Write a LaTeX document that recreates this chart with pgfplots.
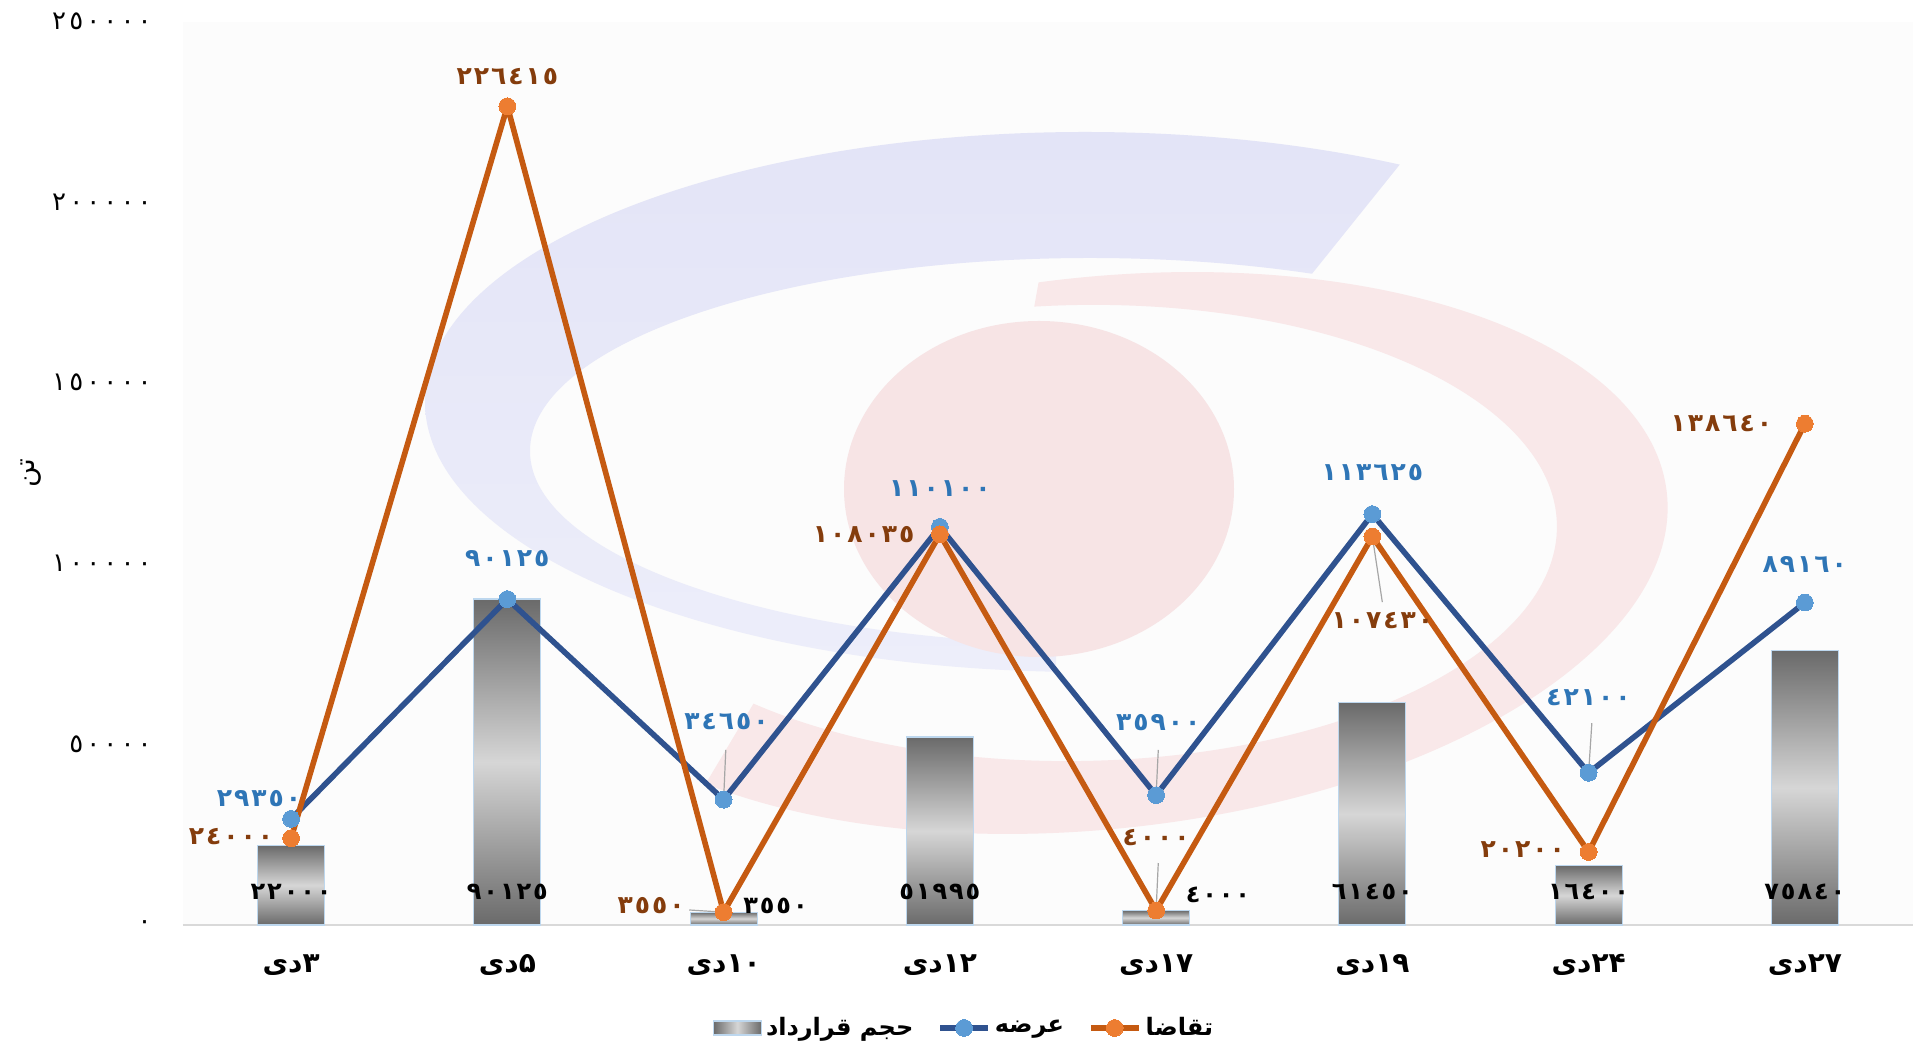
\documentclass[border=0pt]{standalone}
\usepackage{pgfplots}
\pgfplotsset{compat=1.18}
\usepackage{fontspec}
\setmainfont{DejaVu Sans}
\newfontfamily\arabicfont[Script=Arabic]{DejaVu Sans}
\newfontfamily\numfont[Script=Arabic,LetterSpace=8]{DejaVu Sans}
\newfontfamily\tickfont[Script=Arabic,LetterSpace=12]{DejaVu Sans}
\TeXXeTstate=1

\definecolor{supplyline}{HTML}{2F528F}
\definecolor{supplymark}{HTML}{5B9BD5}
\definecolor{demandline}{HTML}{C55A11}
\definecolor{demandmark}{HTML}{ED7D31}
\definecolor{bluelab}{HTML}{2E75B6}
\definecolor{orangelab}{HTML}{843C0C}
\definecolor{barborder}{HTML}{BDD7EE}
\definecolor{barlight}{HTML}{D6D6D6}
\definecolor{bardark}{HTML}{6A6A6A}
\definecolor{axisgray}{HTML}{D9D9D9}
\definecolor{leader}{HTML}{A6A6A6}
\definecolor{bgcol}{HTML}{FCFCFC}
\definecolor{wmbluetop}{HTML}{E3E4F7}
\definecolor{wmbluebot}{HTML}{EDEEFA}
\definecolor{wmred}{HTML}{F9E8E9}
\definecolor{wmred2}{HTML}{F7E4E5}

\newcommand{\dey}[1]{\beginR\beginL#1\endL{}دی\endR}

\pgfplotsset{
  barstyle/.style={ybar, bar width=33.5pt, bar shift=0pt, draw=barborder, line width=0.6pt,
    top color=bardark, bottom color=bardark, middle color=barlight},
  barleg/.style={legend image code/.code={\path[draw=barborder, line width=0.6pt, left color=bardark, right color=bardark, middle color=barlight] (0pt,-3.5pt) rectangle (24pt,3.5pt);}},
  lineleg/.style={legend image code/.code={\draw[mark repeat=2, mark phase=2, ##1] plot coordinates {(0pt,0pt) (12pt,0pt) (24pt,0pt)};}},
}
\tikzset{
  olab/.style={font=\numfont\bfseries\fontsize{12.5}{14}\selectfont, text=orangelab, inner sep=0pt},
  blab/.style={font=\numfont\bfseries\fontsize{12.5}{14}\selectfont, text=bluelab, inner sep=0pt},
  klab/.style={font=\numfont\bfseries\fontsize{12}{14}\selectfont, text=black, inner sep=0pt},
}

\begin{document}
\begin{tikzpicture}
% plot-area background and faint watermark
\fill[bgcol] (0pt,0pt) rectangle (865pt,451.5pt);
\begin{scope}
  \clip (436.5pt,-20pt) -- (436.5pt,237pt) -- (560pt,320pt) -- (650pt,432pt) -- (-20pt,432pt) -- (-20pt,-20pt) -- cycle;
  \path[even odd rule, top color=wmbluetop, bottom color=wmbluebot] (451pt,261.5pt) ellipse [x radius=330pt, y radius=135pt]
        (453.5pt,237pt) ellipse [x radius=280pt, y radius=96.5pt];
\end{scope}
\begin{scope}
  \clip (424pt,300pt) -- (432pt,345pt) -- (780pt,345pt) -- (780pt,-20pt) -- (250pt,-20pt) -- (255pt,60pt) -- (293.5pt,124.5pt) -- (440pt,190pt) -- cycle;
  \fill[wmred, even odd rule] (458.5pt,186pt) ellipse [x radius=285pt, y radius=138pt, rotate=6]
        (448.5pt,196pt) ellipse [x radius=238.5pt, y radius=114pt, rotate=1];
\end{scope}
\fill[wmred2] (428pt,218pt) ellipse [x radius=97.5pt, y radius=84pt];

\begin{axis}[
  at={(0pt,0pt)}, anchor=south west,
  scale only axis, width=865pt, height=452pt,
  xmin=-0.5, xmax=7.5, ymin=0, ymax=250000,
  enlargelimits=false, clip=false,
  axis lines=left, axis line style={-},
  y axis line style={draw=none},
  x axis line style={draw=axisgray, line width=1pt},
  major tick length=0pt, tick style={draw=none},
  xtick={0,...,7},
  xticklabels={\dey{۳},\dey{۵},\dey{۱۰},\dey{۱۲},\dey{۱۷},\dey{۱۹},\dey{۲۴},\dey{۲۷}},
  xticklabel style={anchor=center, yshift=-20pt, font=\arabicfont\bfseries\fontsize{14}{16}\selectfont},
  ytick={0,50000,100000,150000,200000,250000},
  yticklabels={٠,٥٠٠٠٠,١٠٠٠٠٠,١٥٠٠٠٠,٢٠٠٠٠٠,٢٥٠٠٠٠},
  yticklabel style={anchor=east, inner sep=0pt, xshift=-15.5pt, font=\tickfont\fontsize{13}{14}\selectfont},
  ylabel={\beginR تن\endR},
  ylabel style={at={(axis description cs:-0.088,0.5)}, anchor=center, font=\arabicfont\fontsize{14}{16}\selectfont},
  legend columns=3,
  legend style={draw=none, fill=none, at={(axis description cs:0.452,-0.1139)}, anchor=center,
    font=\arabicfont\bfseries\fontsize{12}{14}\selectfont,
    /tikz/every even column/.append style={column sep=10pt}},
]
% contract volume bars (one per category)
\addplot[barstyle, barleg] coordinates {(0,22000)};
\addlegendentry{\beginR حجم قرارداد\endR}
\addplot[barstyle, forget plot] coordinates {(1,90125)};
\addplot[barstyle, forget plot] coordinates {(2,3550)};
\addplot[barstyle, forget plot] coordinates {(3,51995)};
\addplot[barstyle, forget plot] coordinates {(4,4000)};
\addplot[barstyle, forget plot] coordinates {(5,61450)};
\addplot[barstyle, forget plot] coordinates {(6,16400)};
\addplot[barstyle, forget plot] coordinates {(7,75840)};

% supply
\addplot[color=supplyline, line width=2.8pt, line join=round, mark=*, mark size=4.2pt,
  mark options={draw=supplymark, fill=supplymark, line width=0pt}, lineleg]
  coordinates {(0,29350) (1,90125) (2,34650) (3,110100) (4,35900) (5,113625) (6,42100) (7,89160)};
\addlegendentry{عرضه}

% demand
\addplot[color=demandline, line width=2.8pt, line join=round, mark=*, mark size=4.2pt,
  mark options={draw=demandmark, fill=demandmark, line width=0pt}, lineleg]
  coordinates {(0,24000) (1,226415) (2,3550) (3,108035) (4,4000) (5,107430) (6,20200) (7,138640)};
\addlegendentry{تقاضا}

% leader lines
\draw[leader, line width=0.6pt] (axis cs:2.01,48400) -- (axis cs:2,34650);
\draw[leader, line width=0.6pt] (axis cs:1.841,4150) -- (axis cs:2,3550);
\draw[leader, line width=0.6pt] (axis cs:4.01,48400) -- (axis cs:4,35900);
\draw[leader, line width=0.6pt] (axis cs:4.01,17140) -- (axis cs:4,4000);
\draw[leader, line width=0.6pt] (axis cs:5.046,89300) -- (axis cs:5,107430);
\draw[leader, line width=0.6pt] (axis cs:6.015,55850) -- (axis cs:6,42100);

% demand labels
\node[olab] at (axis cs:1,234750) {٢٢٦٤١٥};
\node[olab] at (axis cs:-0.278,24330) {٢٤٠٠٠};
\node[olab] at (axis cs:1.665,5250) {٣٥٥٠};
\node[olab] at (axis cs:2.648,108100) {١٠٨٠٣٥};
\node[olab] at (axis cs:4.0,24050) {٤٠٠٠};
\node[olab] at (axis cs:5.046,84060) {١٠٧٤٣٠};
\node[olab] at (axis cs:5.696,20740) {٢٠٢٠٠};
\node[olab] at (axis cs:6.614,138800) {١٣٨٦٤٠};

% supply labels
\node[blab] at (axis cs:-0.148,34840) {٢٩٣٥٠};
\node[blab] at (axis cs:1,101200) {٩٠١٢٥};
\node[blab] at (axis cs:2.013,56130) {٣٤٦٥٠};
\node[blab] at (axis cs:3,120800) {١١٠١٠٠};
\node[blab] at (axis cs:4.01,55850) {٣٥٩٠٠};
\node[blab] at (axis cs:5,125000) {١١٣٦٢٥};
\node[blab] at (axis cs:6,62770) {٤٢١٠٠};
\node[blab] at (axis cs:7,99800) {٨٩١٦٠};

% bar labels
\node[klab] at (axis cs:0,9125) {٢٢٠٠٠};
\node[klab] at (axis cs:1,9125) {٩٠١٢٥};
\node[klab] at (axis cs:2.24,5250) {٣٥٥٠};
\node[klab] at (axis cs:3,9125) {٥١٩٩٥};
\node[klab] at (axis cs:4.286,8300) {٤٠٠٠};
\node[klab] at (axis cs:5,9125) {٦١٤٥٠};
\node[klab] at (axis cs:6,9125) {١٦٤٠٠};
\node[klab] at (axis cs:7,9125) {٧٥٨٤٠};
\end{axis}
\pgfresetboundingbox
\useasboundingbox (-91.5pt,-59pt) rectangle (865pt,462.5pt);
\end{tikzpicture}
\end{document}
